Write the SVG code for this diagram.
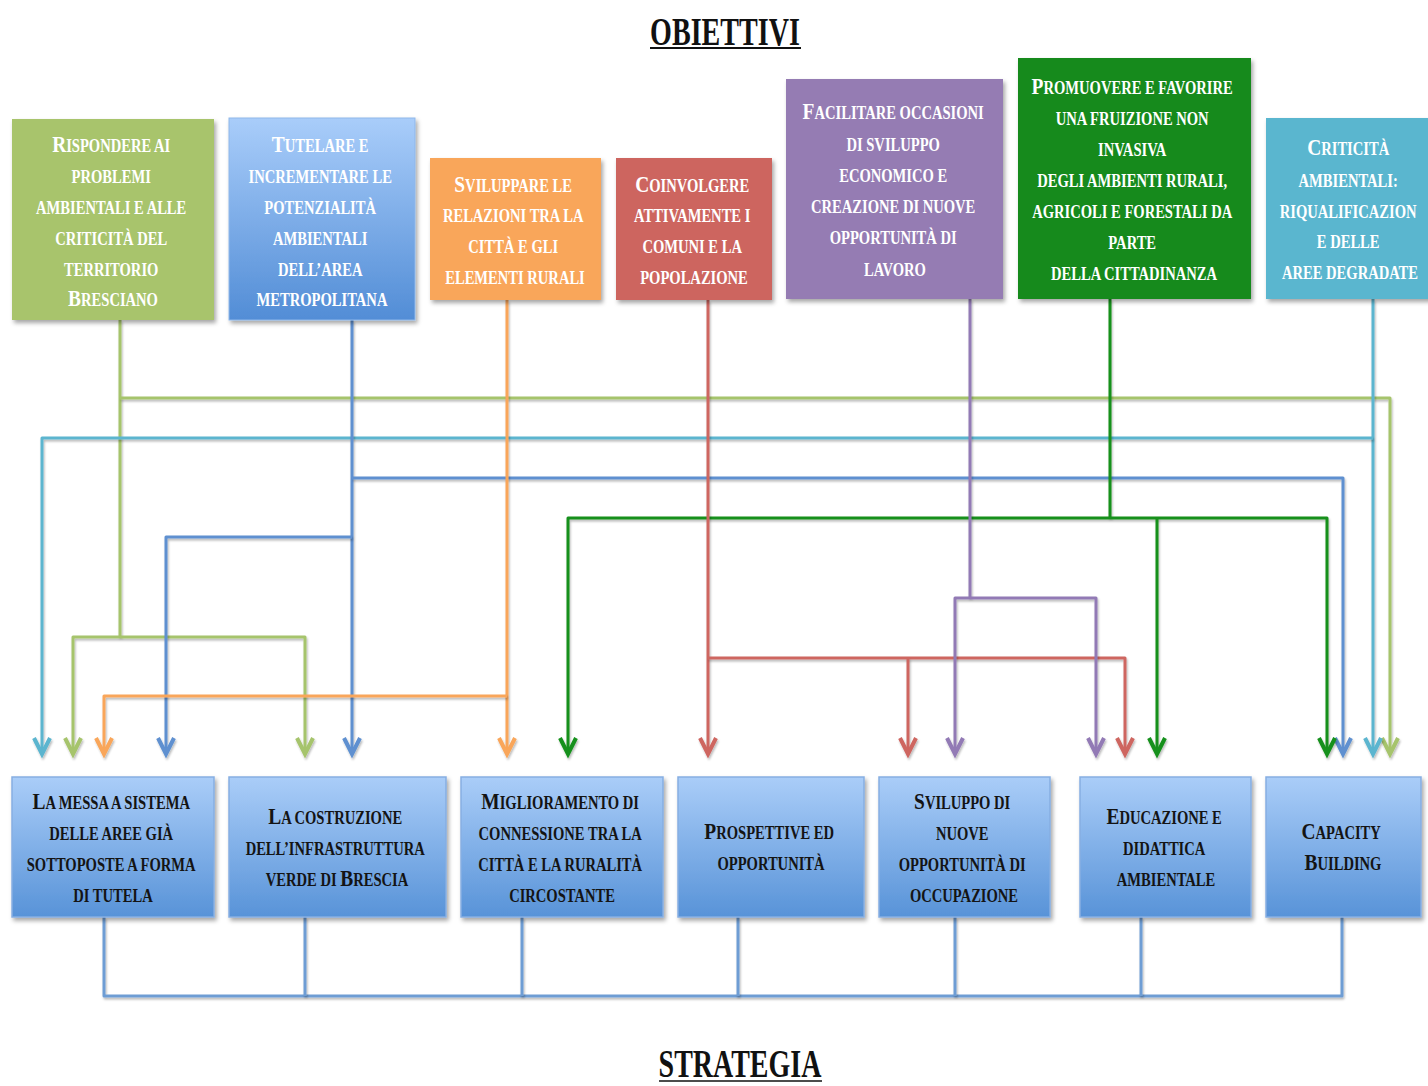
<svg xmlns="http://www.w3.org/2000/svg" width="1428" height="1086" viewBox="0 0 1428 1086">
  <defs>
    <style>
      .title { font-family: "Liberation Serif", "Times New Roman", serif; font-weight: bold; font-size: 41px; fill: #111; text-anchor: middle; }
      .tw { font-family: "Liberation Serif", "Times New Roman", serif; font-weight: bold; font-size: 18px; fill: #ffffff; text-anchor: middle; }
      .tb { font-family: "Liberation Serif", "Times New Roman", serif; font-weight: bold; font-size: 18px; fill: #141414; text-anchor: middle; }
      .cap { font-size: 24px; }
      .box { filter: url(#boxShadow); }
      .bottom { fill: url(#blueBottom); stroke: #86AEE2; stroke-width: 1.5; }
      .ln { fill: none; stroke-width: 3; stroke-linejoin: round; filter: url(#lineShadow); }
      .lg { stroke: #A6C46C; }
      .cy { stroke: #5BB5CF; }
      .bl { stroke: #5E90D0; }
      .or { stroke: #F9A65A; }
      .dg { stroke: #14901C; }
      .rd { stroke: #CE6661; }
      .pu { stroke: #927AB5; }
      .lg.a { marker-end: url(#aLg); }
      .cy.a { marker-end: url(#aCy); }
      .bl.a { marker-end: url(#aBl); }
      .or.a { marker-end: url(#aOr); }
      .dg.a { marker-end: url(#aDg); }
      .rd.a { marker-end: url(#aRd); }
      .pu.a { marker-end: url(#aPu); }
      .base { fill: none; stroke: #6E9DD4; stroke-width: 3; stroke-linejoin: round; filter: url(#lineShadow); }
    </style>
    <filter id="boxShadow" x="-10%" y="-10%" width="125%" height="130%">
      <feDropShadow dx="2" dy="3" stdDeviation="2" flood-color="#000" flood-opacity="0.35"/>
    </filter>
    <!-- user-space region so that straight vertical/horizontal strokes still render -->
    <filter id="lineShadow" filterUnits="userSpaceOnUse" x="0" y="0" width="1428" height="1086">
      <feDropShadow dx="1" dy="2" stdDeviation="1.2" flood-color="#000" flood-opacity="0.28"/>
    </filter>
    <linearGradient id="blueTop" x1="0" y1="0" x2="0" y2="1">
      <stop offset="0" stop-color="#A9CDFA"/>
      <stop offset="1" stop-color="#528DD6"/>
    </linearGradient>
    <linearGradient id="blueBottom" x1="0" y1="0" x2="0" y2="1">
      <stop offset="0" stop-color="#AACDF8"/>
      <stop offset="1" stop-color="#5893D8"/>
    </linearGradient>
    <marker id="aLg" markerUnits="userSpaceOnUse" orient="auto" markerWidth="30" markerHeight="30" refX="0" refY="0" viewBox="-20 -15 30 30" overflow="visible"><path d="M-16,-8 L0,0 L-16,8" fill="none" stroke="#A6C46C" stroke-width="4"/></marker>
    <marker id="aCy" markerUnits="userSpaceOnUse" orient="auto" markerWidth="30" markerHeight="30" refX="0" refY="0" viewBox="-20 -15 30 30" overflow="visible"><path d="M-16,-8 L0,0 L-16,8" fill="none" stroke="#5BB5CF" stroke-width="4"/></marker>
    <marker id="aBl" markerUnits="userSpaceOnUse" orient="auto" markerWidth="30" markerHeight="30" refX="0" refY="0" viewBox="-20 -15 30 30" overflow="visible"><path d="M-16,-8 L0,0 L-16,8" fill="none" stroke="#5E90D0" stroke-width="4"/></marker>
    <marker id="aOr" markerUnits="userSpaceOnUse" orient="auto" markerWidth="30" markerHeight="30" refX="0" refY="0" viewBox="-20 -15 30 30" overflow="visible"><path d="M-16,-8 L0,0 L-16,8" fill="none" stroke="#F9A65A" stroke-width="4"/></marker>
    <marker id="aDg" markerUnits="userSpaceOnUse" orient="auto" markerWidth="30" markerHeight="30" refX="0" refY="0" viewBox="-20 -15 30 30" overflow="visible"><path d="M-16,-8 L0,0 L-16,8" fill="none" stroke="#14901C" stroke-width="4"/></marker>
    <marker id="aRd" markerUnits="userSpaceOnUse" orient="auto" markerWidth="30" markerHeight="30" refX="0" refY="0" viewBox="-20 -15 30 30" overflow="visible"><path d="M-16,-8 L0,0 L-16,8" fill="none" stroke="#CE6661" stroke-width="4"/></marker>
    <marker id="aPu" markerUnits="userSpaceOnUse" orient="auto" markerWidth="30" markerHeight="30" refX="0" refY="0" viewBox="-20 -15 30 30" overflow="visible"><path d="M-16,-8 L0,0 L-16,8" fill="none" stroke="#927AB5" stroke-width="4"/></marker>
  </defs>

  <rect width="1428" height="1086" fill="#ffffff"/>

  <!-- headings -->
  <g id="heading-obiettivi">
    <text class="title" transform="translate(725 0) scale(0.685 1)" x="0" y="45">OBIETTIVI</text>
    <line x1="650" y1="48" x2="801" y2="48" stroke="#111" stroke-width="2"/>
  </g>
  <g id="heading-strategia">
    <text class="title" transform="translate(740 0) scale(0.7 1)" x="0" y="1077" style="font-size:40px">STRATEGIA</text>
    <line x1="659" y1="1081" x2="822" y2="1081" stroke="#111" stroke-width="1.5"/>
  </g>

  <!-- connectors -->
  <g id="connectors">
    <!-- objective 1 (light green) -->
    <path class="ln lg" d="M120,320 V637"/>
    <path class="ln lg a" d="M120,398 H1390 V754"/>
    <path class="ln lg a" d="M120,637 H73 V754"/>
    <path class="ln lg a" d="M120,637 H305 V754"/>
    <!-- objective 7 (cyan) -->
    <path class="ln cy a" d="M1373,299 V754"/>
    <path class="ln cy a" d="M1373,438 H42 V754"/>
    <!-- objective 2 (blue) -->
    <path class="ln bl a" d="M352,320 V754"/>
    <path class="ln bl a" d="M352,478 H1343 V754"/>
    <path class="ln bl a" d="M352,537 H166 V754"/>
    <!-- objective 3 (orange) -->
    <path class="ln or a" d="M507,300 V754"/>
    <path class="ln or a" d="M507,696 H104 V754"/>
    <!-- objective 6 (dark green) -->
    <path class="ln dg" d="M1110,299 V518"/>
    <path class="ln dg a" d="M1110,518 H568 V754"/>
    <path class="ln dg a" d="M1110,518 H1327 V754"/>
    <path class="ln dg a" d="M1157,518 V754"/>
    <!-- objective 4 (red) -->
    <path class="ln rd a" d="M708,300 V754"/>
    <path class="ln rd a" d="M708,658 H1125 V754"/>
    <path class="ln rd a" d="M908,658 V754"/>
    <!-- objective 5 (purple) -->
    <path class="ln pu" d="M970,299 V598"/>
    <path class="ln pu a" d="M970,598 H955 V754"/>
    <path class="ln pu a" d="M970,598 H1096 V754"/>
    <!-- strategy base bar -->
    <path class="base" d="M104,917 V996 H1342 V917"/>
    <path class="base" d="M305,917 V996 M522,917 V996 M738,917 V996 M955,917 V996 M1141,917 V996"/>
  </g>

  <!-- objectives -->
  <g id="obj-rispondere">
    <rect class="box" x="12" y="119" width="202" height="201" fill="#A8C46C"/>
    <text class="tw" transform="translate(113 0) scale(0.81 1)">
      <tspan x="0" y="152"><tspan class="cap">R</tspan>ISPONDERE AI</tspan>
      <tspan x="0" y="183">PROBLEMI</tspan>
      <tspan x="0" y="214">AMBIENTALI E ALLE</tspan>
      <tspan x="0" y="245">CRITICITÀ DEL</tspan>
      <tspan x="0" y="276">TERRITORIO</tspan>
      <tspan x="0" y="306"><tspan class="cap">B</tspan>RESCIANO</tspan>
    </text>
  </g>
  <g id="obj-tutelare">
    <rect class="box" x="229" y="118" width="186" height="202" fill="url(#blueTop)" stroke="#8FB7EA" stroke-width="1"/>
    <text class="tw" transform="translate(322 0) scale(0.81 1)">
      <tspan x="0" y="152"><tspan class="cap">T</tspan>UTELARE E</tspan>
      <tspan x="0" y="183">INCREMENTARE LE</tspan>
      <tspan x="0" y="214">POTENZIALITÀ</tspan>
      <tspan x="0" y="245">AMBIENTALI</tspan>
      <tspan x="0" y="276">DELL’AREA</tspan>
      <tspan x="0" y="306">METROPOLITANA</tspan>
    </text>
  </g>
  <g id="obj-sviluppare">
    <rect class="box" x="430" y="158" width="171" height="142" fill="#F9A65A"/>
    <text class="tw" transform="translate(515 0) scale(0.81 1)">
      <tspan x="0" y="192"><tspan class="cap">S</tspan>VILUPPARE LE</tspan>
      <tspan x="0" y="222">RELAZIONI TRA LA</tspan>
      <tspan x="0" y="253">CITTÀ E GLI</tspan>
      <tspan x="0" y="284">ELEMENTI RURALI</tspan>
    </text>
  </g>
  <g id="obj-coinvolgere">
    <rect class="box" x="616" y="158" width="156" height="142" fill="#CD655F"/>
    <text class="tw" transform="translate(694 0) scale(0.81 1)">
      <tspan x="0" y="192"><tspan class="cap">C</tspan>OINVOLGERE</tspan>
      <tspan x="0" y="222">ATTIVAMENTE I</tspan>
      <tspan x="0" y="253">COMUNI E LA</tspan>
      <tspan x="0" y="284">POPOLAZIONE</tspan>
    </text>
  </g>
  <g id="obj-facilitare">
    <rect class="box" x="786" y="79" width="217" height="220" fill="#957BB3"/>
    <text class="tw" transform="translate(895 0) scale(0.81 1)">
      <tspan x="0" y="119"><tspan class="cap">F</tspan>ACILITARE OCCASIONI</tspan>
      <tspan x="0" y="151">DI SVILUPPO</tspan>
      <tspan x="0" y="182">ECONOMICO E</tspan>
      <tspan x="0" y="213">CREAZIONE DI NUOVE</tspan>
      <tspan x="0" y="244">OPPORTUNITÀ DI</tspan>
      <tspan x="0" y="276">LAVORO</tspan>
    </text>
  </g>
  <g id="obj-promuovere">
    <rect class="box" x="1018" y="58" width="233" height="241" fill="#128A1B"/>
    <text class="tw" transform="translate(1134 0) scale(0.81 1)">
      <tspan x="0" y="94"><tspan class="cap">P</tspan>ROMUOVERE E FAVORIRE</tspan>
      <tspan x="0" y="125">UNA FRUIZIONE NON</tspan>
      <tspan x="0" y="156">INVASIVA</tspan>
      <tspan x="0" y="187">DEGLI AMBIENTI RURALI,</tspan>
      <tspan x="0" y="218">AGRICOLI E FORESTALI DA</tspan>
      <tspan x="0" y="249">PARTE</tspan>
      <tspan x="0" y="280">DELLA CITTADINANZA</tspan>
    </text>
  </g>
  <g id="obj-criticita">
    <rect class="box" x="1266" y="118" width="170" height="181" fill="#5AB6CF"/>
    <text class="tw" transform="translate(1350 0) scale(0.81 1)">
      <tspan x="0" y="155"><tspan class="cap">C</tspan>RITICITÀ</tspan>
      <tspan x="0" y="187">AMBIENTALI:</tspan>
      <tspan x="0" y="218">RIQUALIFICAZION</tspan>
      <tspan x="0" y="248">E DELLE</tspan>
      <tspan x="0" y="279">AREE DEGRADATE</tspan>
    </text>
  </g>

  <!-- strategies -->
  <g id="str-messa-a-sistema">
    <rect class="box bottom" x="12" y="777" width="202" height="140"/>
    <text class="tb" transform="translate(113 0) scale(0.81 1)">
      <tspan x="0" y="809"><tspan class="cap">L</tspan>A MESSA A SISTEMA</tspan>
      <tspan x="0" y="840">DELLE AREE GIÀ</tspan>
      <tspan x="0" y="871">SOTTOPOSTE A FORMA</tspan>
      <tspan x="0" y="902">DI TUTELA</tspan>
    </text>
  </g>
  <g id="str-infrastruttura-verde">
    <rect class="box bottom" x="229" y="777" width="217" height="140"/>
    <text class="tb" transform="translate(337 0) scale(0.81 1)">
      <tspan x="0" y="824"><tspan class="cap">L</tspan>A COSTRUZIONE</tspan>
      <tspan x="0" y="855">DELL’INFRASTRUTTURA</tspan>
      <tspan x="0" y="886">VERDE DI <tspan class="cap">B</tspan>RESCIA</tspan>
    </text>
  </g>
  <g id="str-connessione">
    <rect class="box bottom" x="461" y="777" width="202" height="140"/>
    <text class="tb" transform="translate(562 0) scale(0.81 1)">
      <tspan x="0" y="809"><tspan class="cap">M</tspan>IGLIORAMENTO DI</tspan>
      <tspan x="0" y="840">CONNESSIONE TRA LA</tspan>
      <tspan x="0" y="871">CITTÀ E LA RURALITÀ</tspan>
      <tspan x="0" y="902">CIRCOSTANTE</tspan>
    </text>
  </g>
  <g id="str-prospettive">
    <rect class="box bottom" x="678" y="777" width="186" height="140"/>
    <text class="tb" transform="translate(771 0) scale(0.81 1)">
      <tspan x="0" y="839"><tspan class="cap">P</tspan>ROSPETTIVE ED</tspan>
      <tspan x="0" y="870">OPPORTUNITÀ</tspan>
    </text>
  </g>
  <g id="str-occupazione">
    <rect class="box bottom" x="879" y="777" width="171" height="140"/>
    <text class="tb" transform="translate(964 0) scale(0.81 1)">
      <tspan x="0" y="809"><tspan class="cap">S</tspan>VILUPPO DI</tspan>
      <tspan x="0" y="840">NUOVE</tspan>
      <tspan x="0" y="871">OPPORTUNITÀ DI</tspan>
      <tspan x="0" y="902">OCCUPAZIONE</tspan>
    </text>
  </g>
  <g id="str-educazione">
    <rect class="box bottom" x="1080" y="777" width="171" height="140"/>
    <text class="tb" transform="translate(1166 0) scale(0.81 1)">
      <tspan x="0" y="824"><tspan class="cap">E</tspan>DUCAZIONE E</tspan>
      <tspan x="0" y="855">DIDATTICA</tspan>
      <tspan x="0" y="886">AMBIENTALE</tspan>
    </text>
  </g>
  <g id="str-capacity">
    <rect class="box bottom" x="1266" y="777" width="155" height="140"/>
    <text class="tb" transform="translate(1343 0) scale(0.81 1)">
      <tspan x="0" y="839"><tspan class="cap">C</tspan>APACITY</tspan>
      <tspan x="0" y="870"><tspan class="cap">B</tspan>UILDING</tspan>
    </text>
  </g>
</svg>
